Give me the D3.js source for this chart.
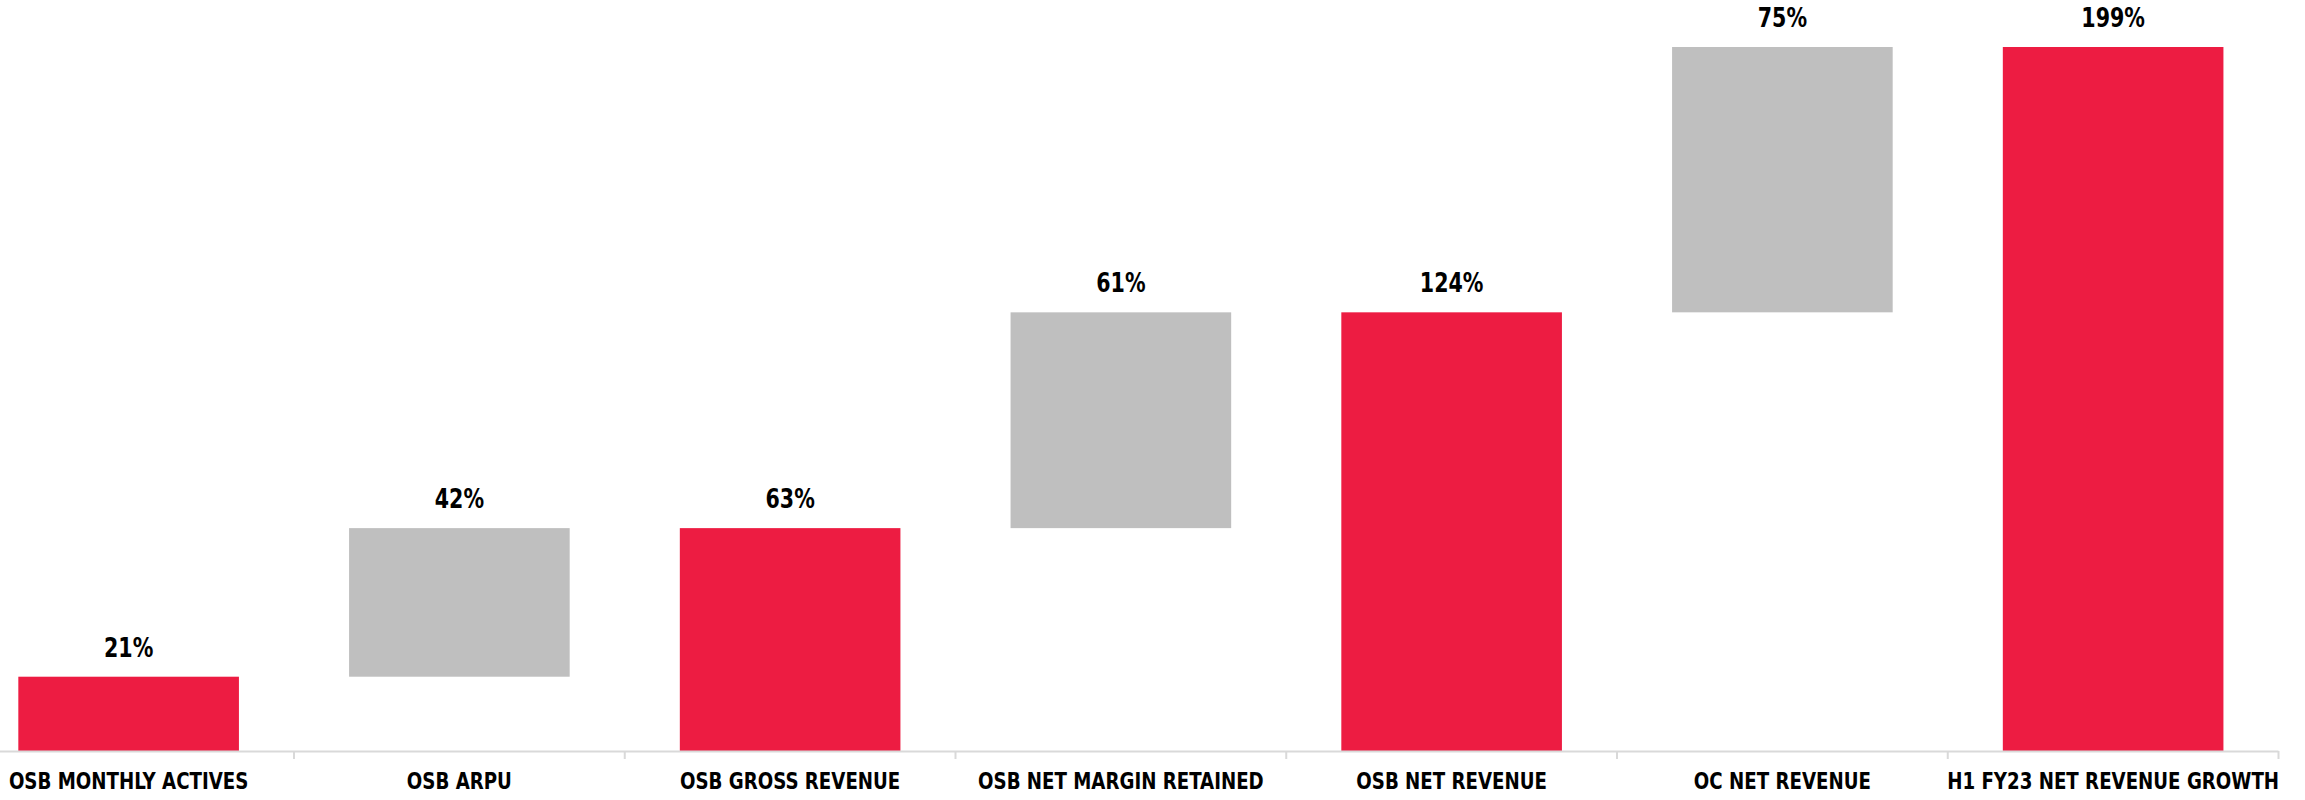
<!DOCTYPE html>
<html>
<head>
<meta charset="utf-8">
<script src="https://cdn.jsdelivr.net/npm/d3@7"></script>
<style>
  html, body { margin: 0; padding: 0; background: #fff; }
  svg { display: block; }
</style>
</head>
<body>
<svg id="chart" width="2305" height="800"></svg>
<script>
const categories = ["OSB MONTHLY ACTIVES", "OSB ARPU", "OSB GROSS REVENUE", "OSB NET MARGIN RETAINED", "OSB NET REVENUE", "OC NET REVENUE", "H1 FY23 NET REVENUE GROWTH"];
const values = [21, 42, 63, 61, 124, 75, 199];
const barTypes = ["total", "delta", "total", "delta", "total", "delta", "total"];
const valueLabels = ["21%", "42%", "63%", "61%", "124%", "75%", "199%"];

const W = 2305, H = 800;
const baseY = 751;
const FONT = "'Liberation Sans Narrow', 'DejaVu Sans Condensed', 'Liberation Sans', sans-serif";
const svg = d3.select("#chart");

const x = d3.scaleBand()
  .domain(categories)
  .range([-36.75, 2278.5])
  .paddingInner(0.333)
  .paddingOuter(0.1665);

const y = d3.scaleLinear().domain([0, 199]).range([baseY, 47]);

let running = 0;
const bars = categories.map((c, i) => {
  let lo, hi;
  if (barTypes[i] === "total") { lo = 0; hi = values[i]; running = values[i]; }
  else { lo = running; hi = running + values[i]; running = hi; }
  return { cat: c, lo, hi, type: barTypes[i], label: valueLabels[i] };
});

const colors = { total: "#ED1C42", delta: "#BFBFBF" };

svg.append("g").selectAll("rect")
  .data(bars)
  .join("rect")
  .attr("x", d => x(d.cat))
  .attr("width", x.bandwidth())
  .attr("y", d => y(d.hi))
  .attr("height", d => y(d.lo) - y(d.hi))
  .attr("fill", d => colors[d.type]);

// value labels
svg.append("g").selectAll("g")
  .data(bars)
  .join("g")
  .attr("transform", d => `translate(${x(d.cat) + x.bandwidth() / 2},${y(d.hi) - 20}) scale(0.88,1)`)
  .append("text")
  .attr("text-anchor", "middle")
  .attr("font-family", FONT)
  .attr("font-weight", "bold")
  .attr("font-size", 26)
  .attr("fill", "#000")
  .text(d => d.label);

// axis
const step = x.step();
const axis = svg.append("g");
axis.append("line")
  .attr("x1", 0).attr("x2", x.range()[1])
  .attr("y1", baseY + 0.5).attr("y2", baseY + 0.5)
  .attr("stroke", "#D9D9D9").attr("stroke-width", 2);
const tickXs = categories.map(c => x(c) + x.bandwidth() / 2 + step / 2);
axis.selectAll("line.tick")
  .data(tickXs)
  .join("line")
  .attr("class", "tick")
  .attr("x1", d => d).attr("x2", d => d)
  .attr("y1", baseY).attr("y2", baseY + 8)
  .attr("stroke", "#D9D9D9").attr("stroke-width", 2);

axis.selectAll("g.lbl")
  .data(categories)
  .join("g")
  .attr("class", "lbl")
  .attr("transform", c => `translate(${x(c) + x.bandwidth() / 2},789) scale(0.88,1)`)
  .append("text")
  .attr("text-anchor", "middle")
  .attr("font-family", FONT)
  .attr("font-weight", "bold")
  .attr("font-size", 23)
  .attr("fill", "#000")
  .text(c => c);
</script>
</body>
</html>
